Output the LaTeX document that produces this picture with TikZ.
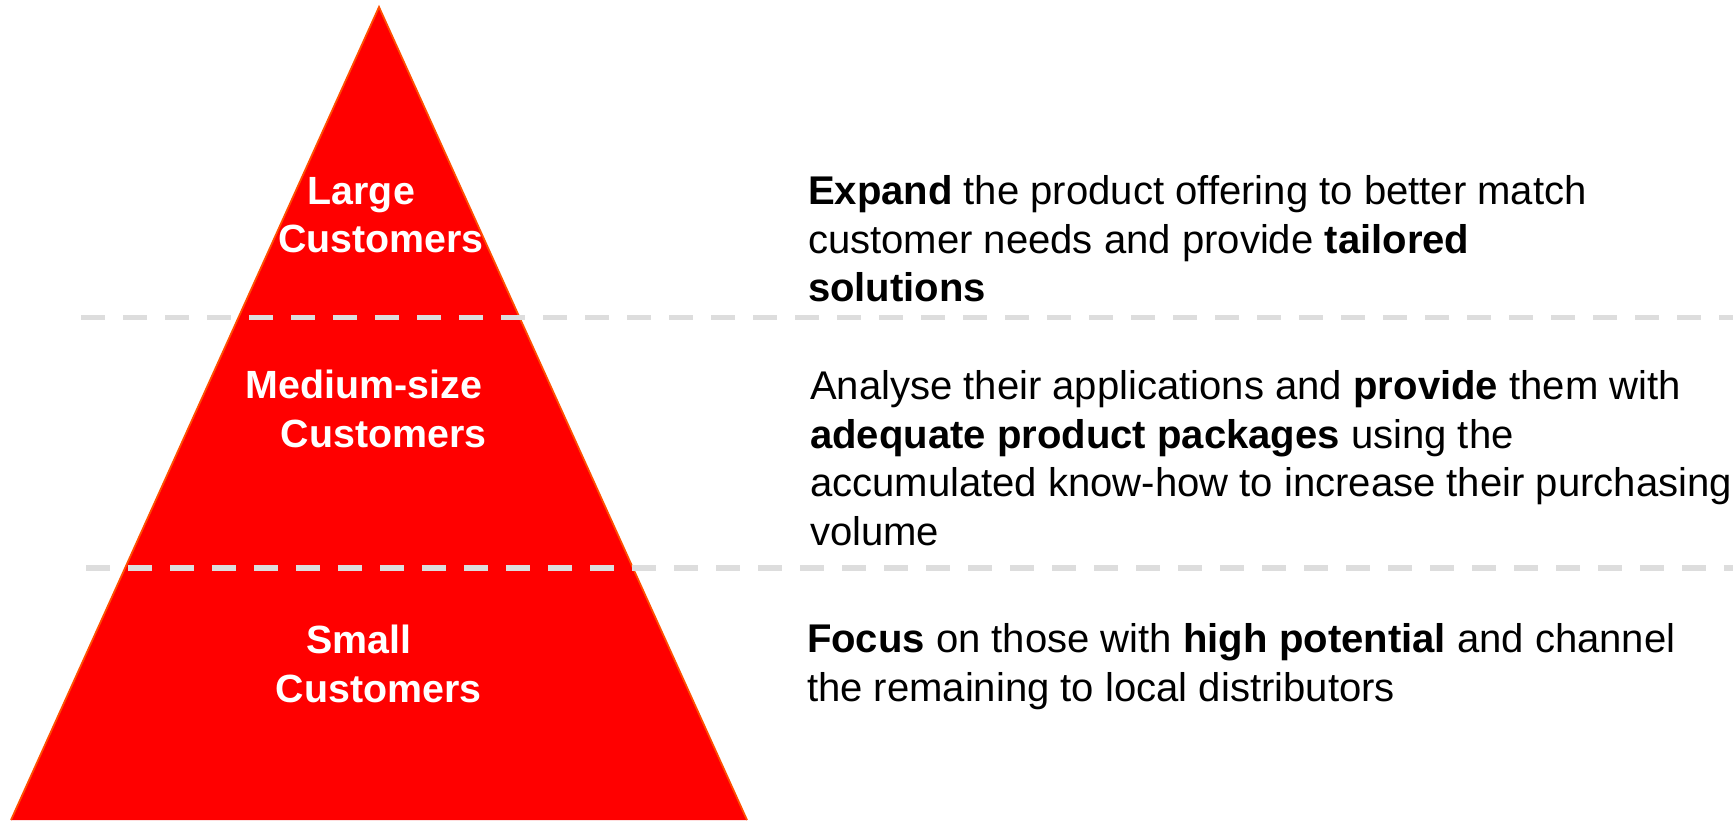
\documentclass[tikz,border=0pt]{standalone}
\usepackage{fontspec}
\setmainfont{Liberation Sans}
\definecolor{pyramidred}{RGB}{255,0,0}
\definecolor{pyramidedge}{RGB}{255,80,0}
\definecolor{dividergray}{RGB}{221,221,221}

\begin{document}
\begin{tikzpicture}[
  every node/.style={inner sep=0pt, outer sep=0pt},
  tierlabel/.style={font=\fontsize{11.2}{13.8}\selectfont\bfseries, text=white,
                    align=center, anchor=north},
  tiertext/.style={font=\fontsize{11.4}{13.8}\selectfont, text=black,
                   align=left, anchor=north west},
  divider/.style={dividergray, line width=1.7pt, dash pattern=on 0.24cm off 0.18cm}
]

\useasboundingbox (0,0) rectangle (17.33,8.20);

% Pyramid
\coordinate (apex) at (3.79,8.13);
\coordinate (baseL) at (0.11,0);
\coordinate (baseR) at (7.47,0);
\fill[pyramidred] (apex) -- (baseR) -- (baseL) -- cycle;
\draw[pyramidedge, line width=0.5pt] (baseL) -- (apex) -- (baseR);

% Dividers
\coordinate (div1L) at (0.81,5.025);
\coordinate (div1R) at (17.33,5.025);
\coordinate (div2L) at (0.86,2.52);
\coordinate (div2R) at (17.33,2.52);
\draw[divider] (div1L) -- (div1R);
\draw[divider] (div2L) -- (div2R);

% Tier labels
\node[tierlabel] (large) at (3.81,6.43) {Large\hspace*{1em}\\Customers};
\node[tierlabel] (medium) at (3.835,4.50) {Medium-size\hspace*{1em}\\Customers};
\node[tierlabel] (small) at (3.785,1.95) {Small\hspace*{1em}\\Customers};

% Tier texts
\node[tiertext] (largetext) at (8.08,6.445)
  {\textbf{Expand} the product offering to better match\\
   customer needs and provide \textbf{tailored}\\
   \textbf{solutions}};
\node[tiertext] (mediumtext) at (8.10,4.495)
  {Analyse their applications and \textbf{provide} them with\\
   \textbf{adequate product packages} using the\\
   accumulated know-how to increase their purchasing\\
   volume};
\node[tiertext] (smalltext) at (8.07,1.965)
  {\textbf{Focus} on those with \textbf{high potential} and channel\\
   the remaining to local distributors};

\end{tikzpicture}
\end{document}
